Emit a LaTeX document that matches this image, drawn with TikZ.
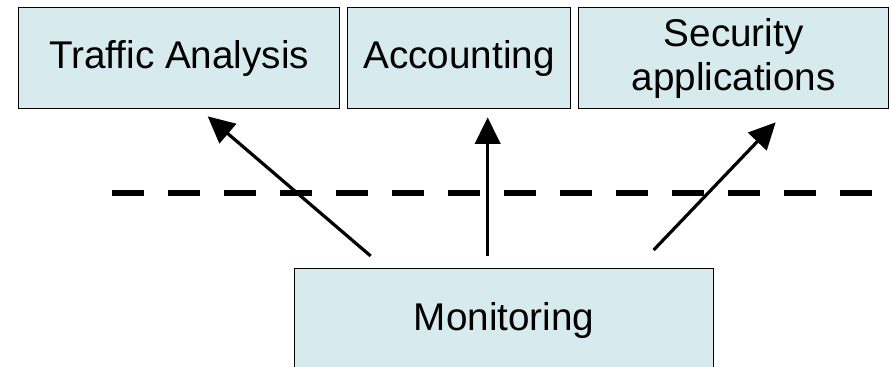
\documentclass[tikz,border=0pt]{standalone}
\usepackage{fontspec}
\setmainfont{Liberation Sans}
\usetikzlibrary{arrows.meta}
\usetikzlibrary{calc}

\tikzset{
  appbox/.style={draw=black, line width=1pt, fill={rgb,255:red,215;green,235;blue,238}, inner sep=0pt, anchor=north west, align=center, font=\fontsize{29}{33}\selectfont},
  uparrow/.style={line width=2.4pt, -{Triangle[length=20pt,width=19pt]}},
}

\begin{document}
\begin{tikzpicture}[x=0.75pt,y=0.75pt,yscale=-1,xscale=1]
\useasboundingbox (0,0) rectangle (889,367);

% Boxes
\node (traffic) [appbox, minimum width=240.75pt, minimum height=75.75pt] at (18,7) {Traffic Analysis};
\node (accounting) [appbox, minimum width=167.25pt, minimum height=75.75pt] at (347,7) {Accounting};
\node (security) [appbox, minimum width=232.5pt, minimum height=75.75pt] at (578,7) {Security\\applications};
\node (monitoring) [appbox, minimum width=314.25pt, minimum height=78pt] at (294,268) {Monitoring};

% Dashed line
\coordinate (dashL) at (112,193);
\coordinate (dashR) at (872,193);
\draw [line width=4.5pt, dash pattern={on 24pt off 18pt}] (dashL) -- (dashR);

% Arrows
\draw [uparrow] ($(monitoring.north)+(-133.5,-12)$) -- ($(traffic.south)+(28.5,7)$);
\draw [uparrow] ($(monitoring.north)+(-16.5,-12)$) -- ($(accounting.south)+(28.5,8)$);
\draw [uparrow] ($(monitoring.north)+(149.5,-18)$) -- ($(security.south)+(42,13)$);

\end{tikzpicture}
\end{document}
